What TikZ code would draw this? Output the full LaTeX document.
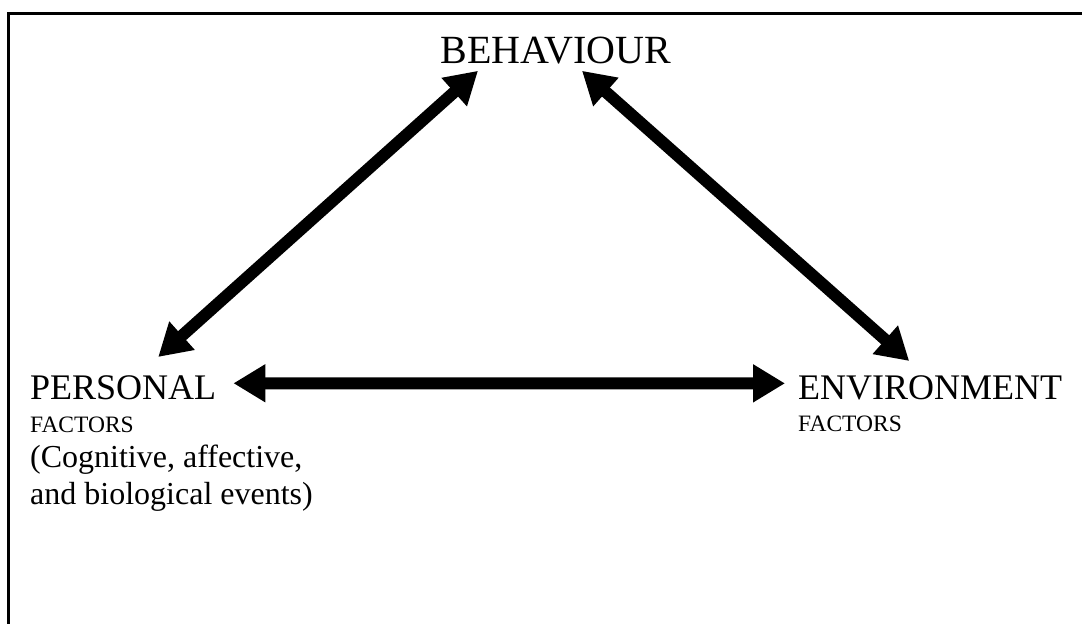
\documentclass[tikz,border=0pt]{standalone}
\usepackage{fontspec}
\setmainfont{Liberation Serif}
\usetikzlibrary{arrows.meta,calc}

\begin{document}
\begin{tikzpicture}[x=1pt,y=-1pt,
	label/.style={inner sep=0pt,anchor=base west,font=\fontsize{36}{43}\selectfont},
	sublabel/.style={inner sep=0pt,anchor=base west,font=\fontsize{23.5}{28}\selectfont},
	note/.style={inner sep=0pt,anchor=base west,font=\fontsize{32}{37}\selectfont},
	link/.style={{Triangle[length=32pt,width=36pt]}-{Triangle[length=32pt,width=36pt]},line width=12pt}]

\useasboundingbox (0,0) rectangle (1082,624);

\draw[line width=2.5pt] (1082,13.5) -- (8.5,13.5) -- (8.5,624);

\node[label,anchor=base,font=\fontsize{40}{48}\selectfont] (behaviour) at (556,63) {BEHAVIOUR};

\node[label] (personal) at (30,399) {PERSONAL};
\node[sublabel] (personalsub) at (30,432) {FACTORS};
\node[note] (personalnote1) at (30,467) {(Cognitive, affective,};
\node[note] (personalnote2) at (30,504) {and biological events)};

\node[label] (environment) at (798,399) {ENVIRONMENT};
\node[sublabel] (environmentsub) at (798,431) {FACTORS};

\draw[link] ($(personal.north)+(35,-18)$) -- ($(behaviour.south)+(-78,7)$);
\draw[link] ($(behaviour.south)+(26,7)$) -- ($(environment.north)+(-21,-14)$);
\draw[link] ($(personal.east)+(17,-4)$) -- ($(environment.west)+(-13,-4)$);

\end{tikzpicture}
\end{document}
